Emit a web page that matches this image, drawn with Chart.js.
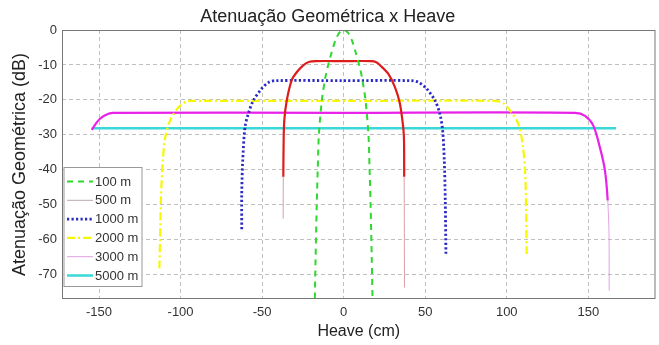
<!DOCTYPE html>
<html>
<head>
<meta charset="utf-8">
<script src="https://cdn.jsdelivr.net/npm/chart.js@4"></script>
<style>
  html, body { margin: 0; padding: 0; background: #fff; }
  #wrap { width: 659px; height: 345px; }
</style>
</head>
<body>
<div id="wrap"><canvas id="chart" width="659" height="345"></canvas></div>
<script>
// Values (heave in cm, attenuation in dB)
const labels = ['100 m', '500 m', '1000 m', '2000 m', '3000 m', '5000 m'];

const heave100 = [-17.8, -17.2, -16.5, -15.9, -15.2, -13.4, -11.3, -9.5, -7.6, -5, -2.5, 0, 2.5, 5, 7.6, 9.5, 11.3, 13.4, 15.2, 15.9, 16.5, 17.2, 17.8];
const atten100 = [-80, -65, -50, -40, -30, -20.2, -13.8, -10, -6.8, -2.9, -0.7, 0, -0.7, -2.9, -6.8, -10, -13.8, -20.2, -30, -40, -50, -65, -80];

const heave500 = [-37.1, -37.0, -36.8, -36.4, -34.9, -31.9, -28.8, -24.8, -21, -17, 0, 17, 20, 22.3, 27.3, 31.5, 34.5, 36.5, 37.0, 37.1, 37.3];
const atten500 = [-54, -42, -31.6, -25.9, -20.2, -14.4, -12.1, -10.1, -9.1, -8.9, -8.9, -8.9, -9.2, -10.1, -12.5, -16.4, -21.1, -27.8, -31.6, -42, -73.7];

const heave1000 = [-62.5, -62.5, -61.9, -60.5, -58.5, -55.4, -50.3, -46, -42, 0, 41.5, 46, 50.9, 56, 59, 60.7, 61.7, 62.3, 62.7];
const atten1000 = [-57, -47, -37.4, -27.8, -24, -20.2, -16.8, -15, -14.5, -14.5, -14.5, -15, -16.8, -20.2, -24, -28.8, -37.4, -48.8, -64.1];

const heave2000 = [-113, -112.6, -112, -111, -109.5, -106.5, -102, -97, -93, 0, 92.5, 98, 102, 107, 109.7, 111.2, 111.8, 112.2];
const atten2000 = [-68.2, -60, -48, -38, -31, -26, -22.5, -20.6, -20.3, -20.3, -20.3, -21, -23, -26.8, -32.6, -40.2, -49.8, -64.1];

const heave3000 = [-154.5, -151.5, -149.4, -146, -141.5, 0, 142, 148, 153, 157.1, 160.2, 161.9, 162.7, 162.8];
const atten3000 = [-28.6, -26.5, -25.4, -24.3, -23.7, -23.7, -23.7, -24.6, -27.3, -33.6, -40.2, -48.8, -58.3, -74.6];

const heave5000 = [-154.5, 167];
const atten5000 = [-28.1, -28.1];

const xTicks = [-150, -100, -50, 0, 50, 100, 150];
const yTicks = [0, -10, -20, -30, -40, -50, -60, -70];

const FONT = "'Liberation Sans', Arial, Helvetica, sans-serif";

function toPoints(xs, ys) {
    return xs.map((x, i) => ({ x: x, y: ys[i] }));
}

// thin, pale tail below a given level
function tail(level, color, pale) {
    return {
        borderColor: ctx => Math.min(ctx.p0.parsed.y, ctx.p1.parsed.y) < level ? pale : color,
        borderWidth: ctx => Math.min(ctx.p0.parsed.y, ctx.p1.parsed.y) < level ? 1 : 2.2
    };
}

const datasets = [
    { label: labels[0], data: toPoints(heave100, atten100), borderColor: '#2fd82f', borderWidth: 2, borderDash: [6, 5] },
    { label: labels[1], data: toPoints(heave500, atten500), borderColor: '#dd1c1c', borderWidth: 2.2,
      segment: tail(-42, '#dd1c1c', 'rgba(200,120,130,0.7)'), legendColor: '#b8a8ac', legendWidth: 1 },
    { label: labels[2], data: toPoints(heave1000, atten1000), borderColor: '#2a2ac4', borderWidth: 2.8, borderDash: [2.2, 2.3] },
    { label: labels[3], data: toPoints(heave2000, atten2000), borderColor: '#f7f700', borderWidth: 2.2, borderDash: [8, 3, 2, 3] },
    { label: labels[4], data: toPoints(heave3000, atten3000), borderColor: '#e822e8', borderWidth: 2.2,
      segment: tail(-50, '#e822e8', 'rgba(220,130,220,0.75)'), legendColor: '#e0a0e0', legendWidth: 1 },
    { label: labels[5], data: toPoints(heave5000, atten5000), borderColor: '#3ad8d8', borderWidth: 2.5 }
];

// frame round the plot and the legend inside it
const framePlugin = {
    id: 'frameLegend',
    afterDraw(chart) {
        const { ctx, chartArea: a } = chart;
        ctx.save();
        ctx.strokeStyle = '#777';
        ctx.lineWidth = 1;
        ctx.strokeRect(a.left + 0.5, a.top + 0.5, a.right - a.left - 1, a.bottom - a.top - 1);

        const bx = 63.5, by = 167, bw = 79, bh = 120;
        ctx.fillStyle = '#fff';
        ctx.fillRect(bx, by, bw, bh);
        ctx.strokeStyle = '#999';
        ctx.strokeRect(bx + 0.5, by + 0.5, bw - 1, bh - 1);

        ctx.font = '13px ' + FONT;
        ctx.textBaseline = 'middle';
        ctx.textAlign = 'left';
        chart.data.datasets.forEach((ds, i) => {
            const y = 181.5 + i * 18.8;
            ctx.beginPath();
            ctx.setLineDash(ds.borderDash || []);
            ctx.strokeStyle = ds.legendColor || ds.borderColor;
            ctx.lineWidth = ds.legendWidth || ds.borderWidth;
            ctx.moveTo(67, y);
            ctx.lineTo(93, y);
            ctx.stroke();
            ctx.setLineDash([]);
            ctx.fillStyle = '#333';
            ctx.fillText(ds.label, 95, y + 0.5);
        });
        ctx.restore();
    }
};

new Chart(document.getElementById('chart'), {
    type: 'line',
    data: { datasets: datasets },
    options: {
        responsive: false,
        animation: false,
        layout: { padding: { left: 0, right: 3.5, top: 0, bottom: 0 } },
        elements: { point: { radius: 0 }, line: { tension: 0.3, borderCapStyle: 'butt' } },
        plugins: {
            legend: { display: false },
            tooltip: { enabled: false },
            title: {
                display: true,
                text: 'Atenuação Geométrica x Heave',
                color: '#222',
                font: { family: FONT, size: 18, weight: 'normal' },
                padding: { top: 6, bottom: 2.4 }
            }
        },
        scales: {
            x: {
                type: 'linear',
                min: -172.7,
                max: 191.2,
                afterBuildTicks: s => { s.ticks = xTicks.map(v => ({ value: v })); },
                afterFit: s => { s.height = 46; },
                ticks: { color: '#333', font: { family: FONT, size: 13 }, padding: 6, maxRotation: 0 },
                grid: { color: '#c0c0c0', lineWidth: 1, drawTicks: false },
                border: { display: false, dash: [4, 3] },
                title: { display: true, text: 'Heave (cm)', color: '#222',
                         font: { family: FONT, size: 16 }, padding: { top: 3, bottom: 3.4 } }
            },
            y: {
                min: -77,
                max: 0,
                afterBuildTicks: s => { s.ticks = yTicks.map(v => ({ value: v })); },
                afterFit: s => { s.width = 62; },
                ticks: { color: '#333', font: { family: FONT, size: 13 }, padding: 5 },
                grid: { color: '#c0c0c0', lineWidth: 1, drawTicks: false },
                border: { display: false, dash: [4, 3] },
                title: { display: true, text: 'Atenuação Geométrica (dB)', color: '#222',
                         font: { family: FONT, size: 18 }, padding: { top: 9.2, bottom: 0 } }
            }
        }
    },
    plugins: [framePlugin]
});
</script>
</body>
</html>
